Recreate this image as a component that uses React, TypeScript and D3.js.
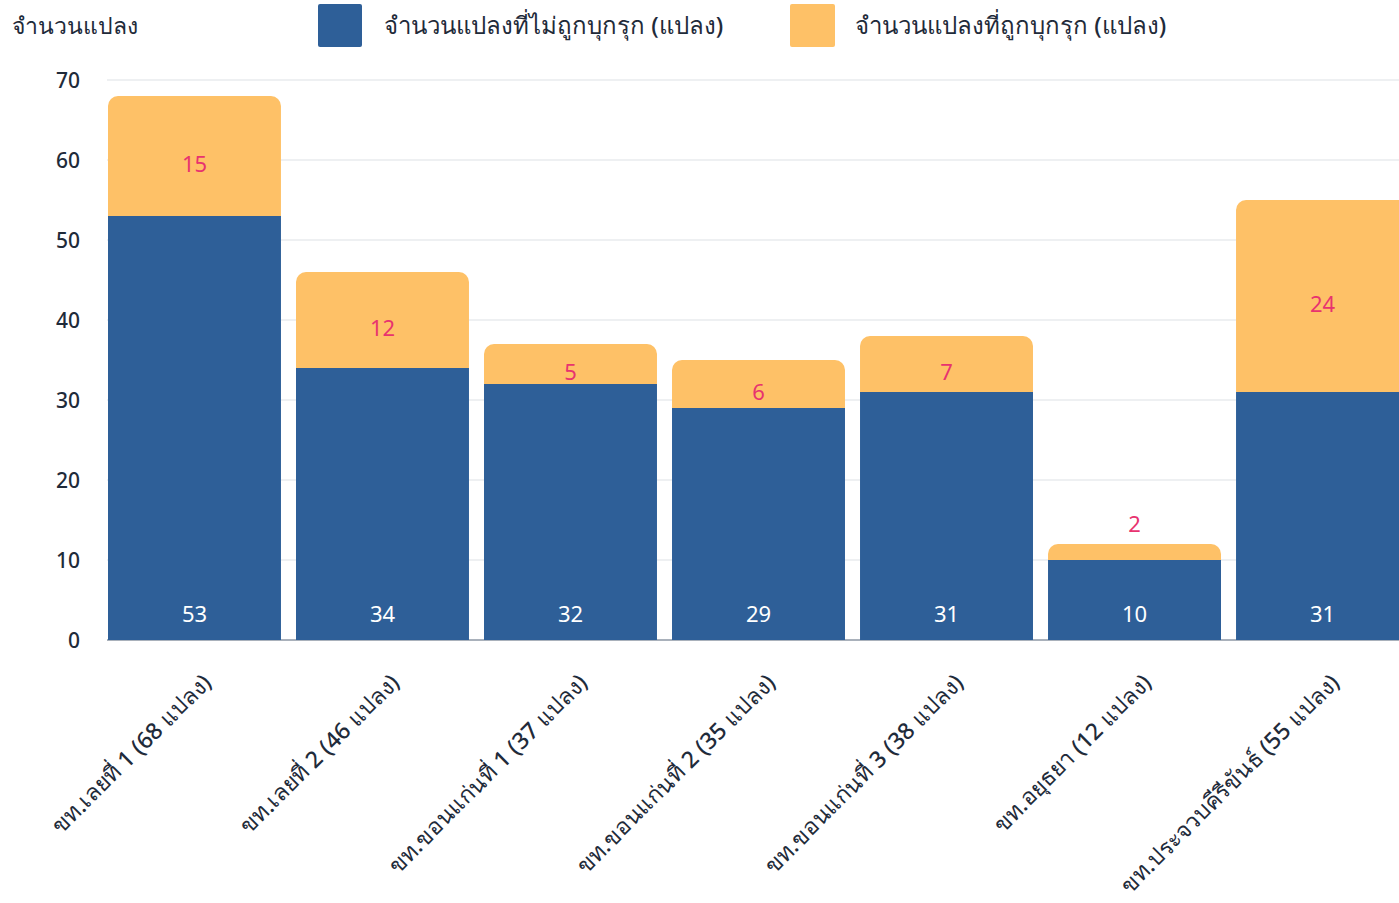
import * as d3 from "d3";

const categories = [
  "ขท.เลยที่ 1 (68 แปลง)",
  "ขท.เลยที่ 2 (46 แปลง)",
  "ขท.ขอนแก่นที่ 1 (37 แปลง)",
  "ขท.ขอนแก่นที่ 2 (35 แปลง)",
  "ขท.ขอนแก่นที่ 3 (38 แปลง)",
  "ขท.อยุธยา (12 แปลง)",
  "ขท.ประจวบคีรีขันธ์ (55 แปลง)",
];
const notInvaded = [53, 34, 32, 29, 31, 10, 31];
const invaded = [15, 12, 5, 6, 7, 2, 24];
const seriesNames = [
  "จำนวนแปลงที่ไม่ถูกบุกรุก (แปลง)",
  "จำนวนแปลงที่ถูกบุกรุก (แปลง)",
];
const yTitle = "จำนวนแปลง";
const yTicks = [0, 10, 20, 30, 40, 50, 60, 70];

const width = 1399;
const height = 903;
const left = 108;
const top = 80;
const bottom = 640;
const blue = "#2e5f98";
const yellow = "#fec167";
const pink = "#e8336f";
const textColor = "#1f2b3a";
const font = "'Noto Sans', 'DejaVu Sans', sans-serif";

function topRounded(x: number, y: number, w: number, h: number, r: number) {
  const rr = Math.min(r, h, w / 2);
  const p = d3.path();
  p.moveTo(x, y + h);
  p.lineTo(x, y + rr);
  p.arcTo(x, y, x + rr, y, rr);
  p.lineTo(x + w - rr, y);
  p.arcTo(x + w, y, x + w, y + rr, rr);
  p.lineTo(x + w, y + h);
  p.closePath();
  return p.toString();
}

export default function App() {
  const x = d3
    .scaleBand<string>()
    .domain(categories)
    .range([left, left + 7 * 188 - 15])
    .paddingInner(0.08)
    .paddingOuter(0);
  const y = d3.scaleLinear().domain([0, 70]).range([bottom, top]);
  const bw = x.bandwidth();

  return (
    <svg
      width={width}
      height={height}
      style={{ position: "absolute", left: 0, top: 0, fontFamily: font }}
    >
      {/* y title + legend */}
      <text x={12} y={34} fontSize={23} fontWeight={500} fill={textColor}>
        {yTitle}
      </text>
      <rect x={318} y={4} width={44} height={43} fill={blue} rx={2} />
      <text x={384} y={34} fontSize={24} fontWeight={500} fill={textColor}>
        {seriesNames[0]}
      </text>
      <rect x={790} y={4} width={45} height={43} fill={yellow} rx={2} />
      <text x={855} y={34} fontSize={24} fontWeight={500} fill={textColor}>
        {seriesNames[1]}
      </text>

      {/* grid */}
      {yTicks.map((t) => (
        <g key={t}>
          <line
            x1={left - 1}
            x2={width}
            y1={y(t)}
            y2={y(t)}
            stroke={t === 0 ? "#a9b1bb" : "#dde1e6"}
            strokeWidth={t === 0 ? 2 : 1.2}
          />
          <text
            x={80}
            y={y(t) + 1}
            dy="0.35em"
            textAnchor="end"
            fontSize={21}
            fontWeight={500}
            fill={textColor}
          >
            {t}
          </text>
        </g>
      ))}

      {/* bars */}
      {categories.map((c, i) => {
        const x0 = x(c)!;
        const yb = y(notInvaded[i]);
        const yt = y(notInvaded[i] + invaded[i]);
        const segH = yb - yt;
        const labelY = segH < 24 ? yt - 20 : (yt + yb) / 2 + 8;
        return (
          <g key={c}>
            <rect
              x={x0}
              y={yb}
              width={bw}
              height={y(0) - yb}
              fill={blue}
            />
            <path d={topRounded(x0, yt, bw, segH, 10)} fill={yellow} />
            <text
              x={x0 + bw / 2}
              y={y(0) - 26}
              dy="0.35em"
              textAnchor="middle"
              fontSize={22}
              fill="#ffffff"
            >
              {notInvaded[i]}
            </text>
            <text
              x={x0 + bw / 2}
              y={labelY}
              dy="0.35em"
              textAnchor="middle"
              fontSize={22}
              fill={pink}
            >
              {invaded[i]}
            </text>
          </g>
        );
      })}

      {/* x labels */}
      {categories.map((c) => {
        const cx = x(c)! + bw / 2 + 18;
        const cy = 684;
        return (
          <text
            key={c}
            transform={`translate(${cx},${cy}) rotate(-45)`}
            textAnchor="end"
            fontSize={23}
            fontWeight={500}
            fill={textColor}
          >
            {c}
          </text>
        );
      })}
    </svg>
  );
}
